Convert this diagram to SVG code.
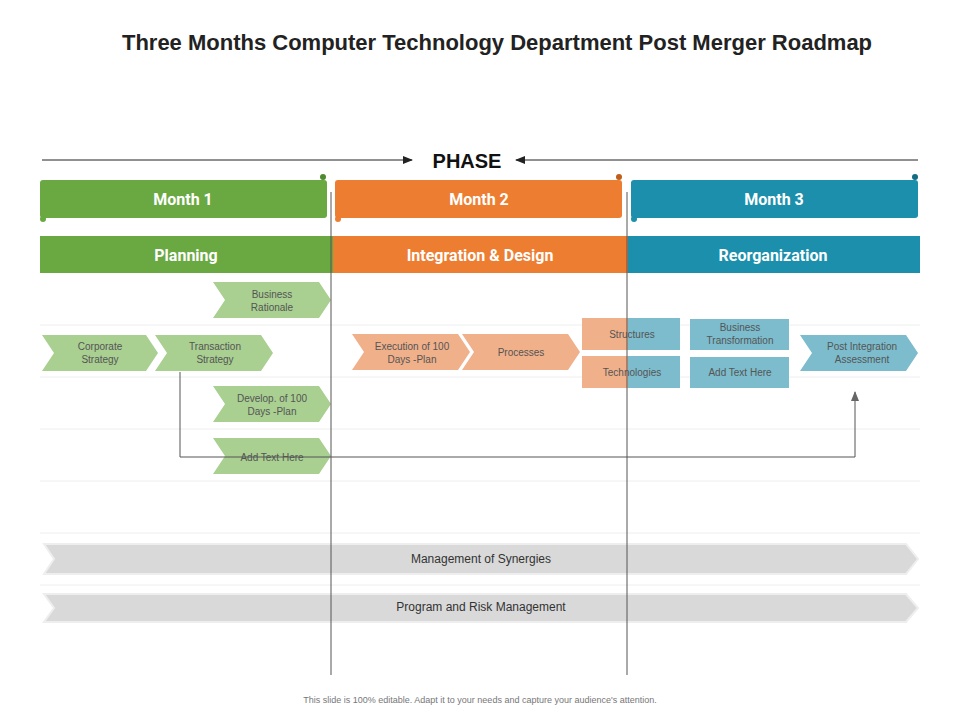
<svg xmlns="http://www.w3.org/2000/svg" width="960" height="720" viewBox="0 0 960 720">
<style>
text{font-family:"Liberation Sans",Arial,sans-serif}
.hd{font-family:"Roboto","Liberation Sans",sans-serif;font-weight:bold;fill:#fff;font-size:16px;text-anchor:middle}
.sm{font-size:10px;fill:#555;text-anchor:middle}
.g{fill:#a9cf91}.o{fill:#f0b08a}.b{fill:#7cbccc}
.row{stroke:#eeeeee;stroke-width:1}
.ln{stroke:#555;stroke-width:1;fill:none}
.big{fill:#d9d9d9;stroke:#eee;stroke-width:2}
</style>
<defs>
<marker id="ar" markerWidth="10" markerHeight="10" refX="9" refY="5" orient="auto" markerUnits="userSpaceOnUse"><path d="M0,1 L10,5 L0,9 z" fill="#222"/></marker>
<marker id="ag" markerWidth="10" markerHeight="10" refX="9" refY="5" orient="auto" markerUnits="userSpaceOnUse"><path d="M0,1 L10,5 L0,9 z" fill="#666"/></marker>
</defs>
<rect width="960" height="720" fill="#fff"/>
<text x="497" y="50" text-anchor="middle" font-family="Roboto,'Liberation Sans',sans-serif" font-weight="bold" font-size="22" fill="#222">Three Months Computer Technology Department Post Merger Roadmap</text>
<g id="phase">
<line x1="42" y1="160" x2="412" y2="160" stroke="#222" marker-end="url(#ar)"/>
<line x1="918" y1="160" x2="516" y2="160" stroke="#222" marker-end="url(#ar)"/>
<text x="467" y="168" text-anchor="middle" font-family="Roboto,'Liberation Sans',sans-serif" font-weight="bold" font-size="20" fill="#111">PHASE</text>
</g>
<g class="rows">
<line class="row" x1="40" y1="325" x2="920" y2="325"/>
<line class="row" x1="40" y1="377" x2="920" y2="377"/>
<line class="row" x1="40" y1="429" x2="920" y2="429"/>
<line class="row" x1="40" y1="481" x2="920" y2="481"/>
<line class="row" x1="40" y1="533" x2="920" y2="533"/>
<line class="row" x1="40" y1="585" x2="920" y2="585"/>
</g>
<g id="month1"><rect x="40" y="180" width="287" height="38" rx="3" fill="#6aa842"/><circle cx="323" cy="177" r="3" fill="#4f8a30"/><circle cx="43" cy="219" r="3" fill="#6aa842"/><text class="hd" x="183" y="205">Month 1</text></g>
<g id="month2"><rect x="335" y="180" width="287" height="38" rx="3" fill="#ed7d31"/><circle cx="619" cy="177" r="3" fill="#c05e1b"/><circle cx="338" cy="219" r="3" fill="#ed7d31"/><text class="hd" x="479" y="205">Month 2</text></g>
<g id="month3"><rect x="631" y="180" width="287" height="38" rx="3" fill="#1b8fab"/><circle cx="915" cy="177" r="3" fill="#136c82"/><circle cx="634" cy="219" r="3" fill="#1b8fab"/><text class="hd" x="774" y="205">Month 3</text></g>
<g id="planning"><rect x="40" y="236" width="293" height="37" fill="#6aa842"/><text class="hd" x="186" y="261">Planning</text></g>
<g id="integration"><rect x="333" y="236" width="295" height="37" fill="#ed7d31"/><text class="hd" x="480" y="261">Integration &amp; Design</text></g>
<g id="reorg"><rect x="628" y="236" width="292" height="37" fill="#1b8fab"/><text class="hd" x="773" y="261">Reorganization</text></g>
<g id="bigarrows">
<path class="big" d="M44,544 L906,544 L918,559 L906,574 L44,574 L54,559 Z"/>
<text x="481" y="563" font-size="12" fill="#333" text-anchor="middle">Management of Synergies</text>
<path class="big" d="M44,594 L906,594 L918,608 L906,622 L44,622 L54,608 Z"/>
<text x="481" y="611" font-size="12" fill="#333" text-anchor="middle">Program and Risk Management</text>
</g>
<g id="c-business-rationale"><path class="g" d="M213,282 L319,282 L331,300 L319,318 L213,318 L225,300Z"/><text class="sm" x="272" y="298">Business</text><text class="sm" x="272" y="311">Rationale</text></g>
<g id="c-corporate"><path class="g" d="M42,335 L146,335 L158,353 L146,371 L42,371 L54,353Z"/><text class="sm" x="100" y="350">Corporate</text><text class="sm" x="100" y="363">Strategy</text></g>
<g id="c-transaction"><path class="g" d="M155,335 L261,335 L273,353 L261,371 L155,371 L167,353Z"/><text class="sm" x="215" y="350">Transaction</text><text class="sm" x="215" y="363">Strategy</text></g>
<g id="c-develop"><path class="g" d="M213,386 L319,386 L331,404 L319,422 L213,422 L225,404Z"/><text class="sm" x="272" y="402">Develop. of 100</text><text class="sm" x="272" y="415">Days -Plan</text></g>
<g id="c-addtext1"><path class="g" d="M213,438 L319,438 L331,456 L319,474 L213,474 L225,456Z"/></g>
<g id="c-execution"><path class="o" d="M352,334 L458,334 L470,352 L458,370 L352,370 L364,352Z"/><text class="sm" x="412" y="350">Execution of 100</text><text class="sm" x="412" y="363">Days -Plan</text></g>
<g id="c-processes"><path class="o" d="M462,334 L568,334 L580,352 L568,370 L462,370 L474,352Z"/><text class="sm" x="521" y="356">Processes</text></g>
<g id="b-structures"><rect class="o" x="582" y="318" width="46" height="32"/><rect class="b" x="628" y="318" width="52" height="32"/><text class="sm" x="632" y="338">Structures</text></g>
<g id="b-technologies"><rect class="o" x="582" y="356" width="46" height="32"/><rect class="b" x="628" y="356" width="52" height="32"/><text class="sm" x="632" y="376">Technologies</text></g>
<g id="b-bt"><rect class="b" x="690" y="319" width="99" height="31"/><text class="sm" x="740" y="331">Business</text><text class="sm" x="740" y="344">Transformation</text></g>
<g id="b-addtext2"><rect class="b" x="690" y="357" width="99" height="31"/><text class="sm" x="740" y="376">Add Text Here</text></g>
<g id="c-post"><path class="b" d="M800,335 L906,335 L918,353 L906,371 L800,371 L812,353Z"/><text class="sm" x="862" y="350">Post Integration</text><text class="sm" x="862" y="363">Assessment</text></g>
<g id="connectors">
<line class="ln" x1="331" y1="192" x2="331" y2="675"/>
<line class="ln" x1="627" y1="192" x2="627" y2="675"/>
<polyline class="ln" points="180,372 180,457 855,457 855,392" marker-end="url(#ag)"/>
</g>
<text class="sm" x="272" y="461">Add Text Here</text>
<text x="480" y="703" font-size="9" fill="#777" text-anchor="middle">This slide is 100% editable. Adapt it to your needs and capture your audience's attention.</text>
</svg>
